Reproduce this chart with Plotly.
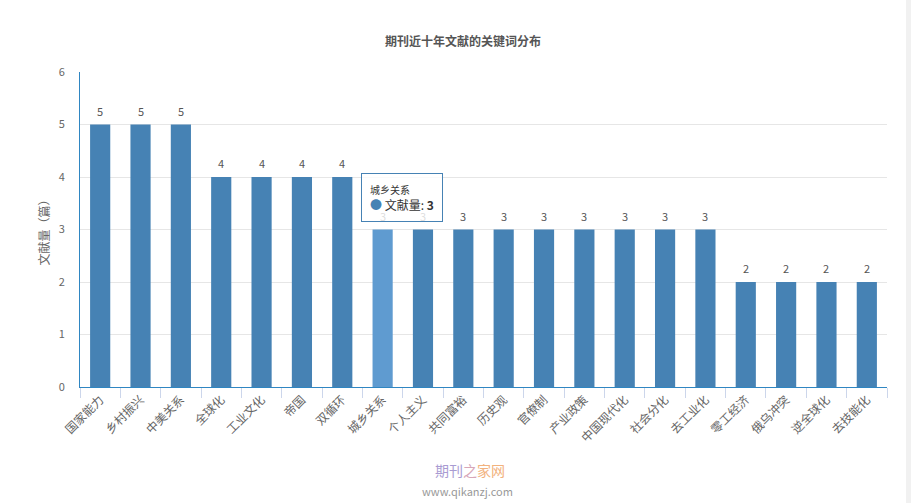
import plotly.graph_objects as go

categories = ["国家能力", "乡村振兴", "中美关系", "全球化", "工业文化", "帝国", "双循环",
              "城乡关系", "个人主义", "共同富裕", "历史观", "官僚制", "产业政策", "中国现代化",
              "社会分化", "去工业化", "零工经济", "俄乌冲突", "逆全球化", "去技能化"]
values = [5, 5, 5, 4, 4, 4, 4, 3, 3, 3, 3, 3, 3, 3, 3, 3, 2, 2, 2, 2]
hover_category = "城乡关系"
y_ticks = [0, 1, 2, 3, 4, 5, 6]

FONT = "Noto Sans CJK SC"
BAR = "#4682b4"
BAR_HOVER = "#5f9bd0"
colors = [BAR_HOVER if c == hover_category else BAR for c in categories]

fig = go.Figure(go.Bar(
    x=categories, y=values,
    marker=dict(color=colors, line=dict(width=0)),
    hoverinfo="skip",
))

annotations = []
for c, v in zip(categories, values):
    annotations.append(dict(x=c, y=v, xref="x", yref="y", showarrow=False,
                            text=str(v), yshift=14, yanchor="middle",
                            font=dict(size=11, color="#555", family=FONT)))

hv = values[categories.index(hover_category)]
annotations += [
    dict(x=hover_category, y=hv, xref="x", yref="y", showarrow=False,
         xanchor="center", yanchor="bottom", xshift=19, yshift=8,
         align="left",
         text=("<span style='font-size:10px;color:#333'>城乡关系</span><br>"
               "<span style='color:#4682b4'>●</span> 文献量: <b>3</b>"),
         font=dict(size=12, color="#333", family=FONT),
         bgcolor="rgba(255,255,255,0.8)", bordercolor="#4682b4", borderwidth=1,
         borderpad=8),
    dict(x=0.483, y=-0.265, xref="paper", yref="paper", showarrow=False,
         text=("<span style='color:#a99bd2'>期刊</span><span style='color:#d7a6b8'>之</span>"
               "<span style='color:#f2b27e'>家网</span>"),
         font=dict(size=14, family=FONT),
         xanchor="center", yanchor="middle"),
    dict(x=0.48, y=-0.33, xref="paper", yref="paper", showarrow=False,
         text="www.qikanzj.com", font=dict(size=11, color="#999", family=FONT),
         xanchor="center", yanchor="middle"),
]

fig.update_layout(
    width=911, height=503,
    margin=dict(l=80, r=24, t=72, b=116),
    paper_bgcolor="white", plot_bgcolor="white",
    bargap=0.5,
    showlegend=False,
    title=dict(text="<b>期刊近十年文献的关键词分布</b>", x=463/911, xanchor="center",
               y=1-42/503, yanchor="middle", xref="container", yref="container",
               font=dict(size=12, color="#555", family=FONT)),
    font=dict(family=FONT),
    annotations=annotations,
    shapes=[dict(type="rect", xref="paper", yref="paper", x0=(906-80)/807, x1=(911-80)/807,
                 y0=-116/315, y1=1+72/315, fillcolor="#f1f1f1", line=dict(width=0), layer="below")],
)

fig.update_xaxes(
    type="category", tickangle=-45, tickson="boundaries",
    ticks="outside", ticklen=10, tickcolor="#ccd6eb",
    showline=True, linecolor="#2f86c2", linewidth=1,
    showgrid=False,
    tickfont=dict(size=12, color="#666", family=FONT),
)
fig.update_yaxes(
    range=[0, 6], tickvals=y_ticks, ticktext=[str(v) for v in y_ticks],
    showgrid=True, gridcolor="#e6e6e6", gridwidth=1,
    showline=True, linecolor="#2f86c2", linewidth=1,
    zeroline=False, ticks="", ticklabelstandoff=12,
    tickfont=dict(size=11, color="#666", family=FONT),
    title=dict(text="文献量（篇）", font=dict(size=12, color="#666", family=FONT), standoff=6),
)

fig.write_html("out.html", config={"displayModeBar": False},
               post_script="document.body.style.margin='0';")
